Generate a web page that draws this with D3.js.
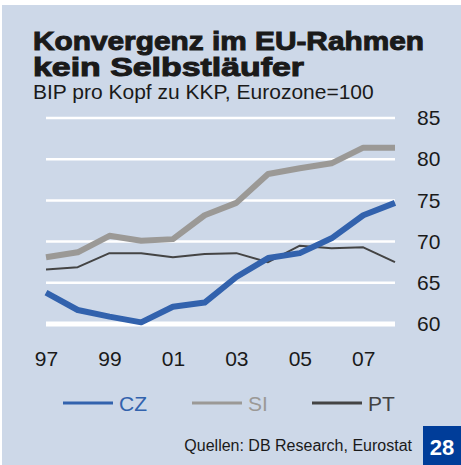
<!DOCTYPE html>
<html>
<head>
<meta charset="utf-8">
<script src="https://cdn.jsdelivr.net/npm/d3@7"></script>
<style>
  html, body { margin: 0; padding: 0; background: #fff; }
  svg { display: block; font-family: "Liberation Sans", Arial, sans-serif; }
</style>
</head>
<body>
<svg id="chart" width="461" height="465"></svg>
<script>
// years 1997..2008
var years = [1997, 1998, 1999, 2000, 2001, 2002, 2003, 2004, 2005, 2006, 2007, 2008];
var cz = [63.8, 61.7, 60.9, 60.2, 62.1, 62.6, 65.7, 68.0, 68.6, 70.4, 73.2, 74.7];
var si = [68.1, 68.7, 70.7, 70.1, 70.3, 73.2, 74.7, 78.2, 78.9, 79.5, 81.4, 81.4];
var pt = [66.6, 66.9, 68.6, 68.6, 68.1, 68.5, 68.6, 67.5, 69.5, 69.2, 69.3, 67.5];
var yTicks = [60, 65, 70, 75, 80, 85];
var xTicks = [1997, 1999, 2001, 2003, 2005, 2007];
var titleLines = ["Konvergenz im EU-Rahmen", "kein Selbstläufer"];

var series = [
  { name: "CZ", values: cz, color: "#3262ad", width: 6 },
  { name: "SI", values: si, color: "#9b9996", width: 6 },
  { name: "PT", values: pt, color: "#444444", width: 2 }
];

var svg = d3.select("#chart");

// panel background
svg.append("rect")
   .attr("x", 2).attr("y", 5)
   .attr("width", 459).attr("height", 460)
   .attr("fill", "#cdd8e8");

// title, two lines in one text (heavy face faked with a thin stroke)
var title = svg.append("text")
   .attr("font-size", 26).attr("font-weight", "bold")
   .attr("fill", "#1a1a1a").attr("stroke", "#1a1a1a").attr("stroke-width", 1);
title.selectAll("tspan")
   .data(titleLines)
   .join("tspan")
   .attr("x", 33)
   .attr("y", (d, i) => i === 0 ? 50 : 76)
   .attr("textLength", (d, i) => i === 0 ? 391 : 271)
   .attr("lengthAdjust", "spacingAndGlyphs")
   .text(d => d);

svg.append("text")
   .attr("x", 33).attr("y", 99)
   .attr("font-size", 21).attr("fill", "#1a1a1a")
   .text("BIP pro Kopf zu KKP, Eurozone=100");

var x = d3.scaleLinear().domain([1997, 2008]).range([46, 395]);
var y = d3.scaleLinear().domain([60, 85]).range([324, 118]);

// gridlines
svg.append("g").selectAll("line")
   .data(yTicks)
   .join("line")
   .attr("x1", x(1997)).attr("x2", x(2008))
   .attr("y1", d => y(d)).attr("y2", d => y(d))
   .attr("stroke", "#fff")
   .attr("stroke-width", d => d === 60 ? 5 : 2.5);

// y axis labels on the right
var yAxis = d3.axisRight(y).tickValues(yTicks).tickSize(0).tickPadding(0);
svg.append("g")
   .attr("transform", "translate(417,0)")
   .call(yAxis)
   .call(g => g.select(".domain").remove())
   .selectAll("text")
   .attr("font-size", 21).attr("fill", "#1a1a1a")
   .attr("font-family", "Liberation Sans, Arial, sans-serif");

// x axis labels
var xAxis = d3.axisBottom(x).tickValues(xTicks).tickSize(0).tickPadding(0)
   .tickFormat(d => String(d).slice(2));
svg.append("g")
   .attr("transform", "translate(0,351)")
   .call(xAxis)
   .call(g => g.select(".domain").remove())
   .selectAll("text")
   .attr("font-size", 21).attr("fill", "#1a1a1a")
   .attr("font-family", "Liberation Sans, Arial, sans-serif");

var line = d3.line()
   .x((d, i) => x(years[i]))
   .y(d => y(d));

// draw SI, PT, CZ order so CZ sits over PT as in the picture
[series[1], series[2], series[0]].forEach(function(s) {
   svg.append("path")
      .datum(s.values)
      .attr("d", line)
      .attr("fill", "none")
      .attr("stroke", s.color)
      .attr("stroke-width", s.width)
      .attr("stroke-linejoin", "round");
});

// legend
var legendX = [63, 192, 312];
var leg = svg.append("g").selectAll("g")
   .data(series)
   .join("g")
   .attr("transform", (d, i) => "translate(" + legendX[i] + ",403)");
leg.append("line")
   .attr("x1", 0).attr("x2", 50)
   .attr("stroke", d => d.color)
   .attr("stroke-width", 3);
leg.append("text")
   .attr("x", 56).attr("y", 8)
   .attr("font-size", 21)
   .attr("fill", d => d.color)
   .text(d => d.name);

// source + page number
svg.append("text")
   .attr("x", 412).attr("y", 451)
   .attr("text-anchor", "end")
   .attr("font-size", 16).attr("fill", "#1a1a1a")
   .text("Quellen: DB Research, Eurostat");
svg.append("rect")
   .attr("x", 423).attr("y", 426)
   .attr("width", 38).attr("height", 39)
   .attr("fill", "#003d99");
svg.append("text")
   .attr("x", 442).attr("y", 455)
   .attr("text-anchor", "middle")
   .attr("font-size", 22).attr("font-weight", "bold")
   .attr("fill", "#fff")
   .text("28");
</script>
</body>
</html>
